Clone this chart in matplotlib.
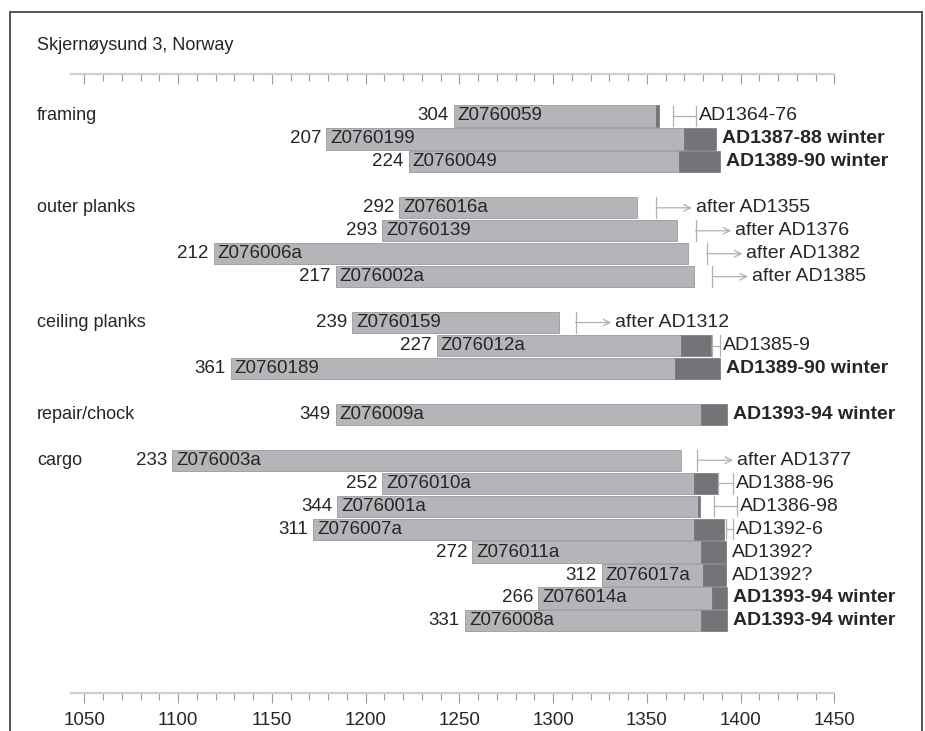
import matplotlib
matplotlib.use("Agg")
import matplotlib.pyplot as plt
from matplotlib.patches import Rectangle
from matplotlib.ticker import MultipleLocator

plt.rcParams['font.family'] = ['Liberation Sans', 'DejaVu Sans']

# ---------------- data ----------------
title = "Skjernøysund 3, Norway"
groups = ["framing", "outer planks", "ceiling planks", "repair/chock", "cargo"]
group_sizes = [3, 4, 3, 1, 8]

samples = ["Z0760059", "Z0760199", "Z0760049",
           "Z076016a", "Z0760139", "Z076006a", "Z076002a",
           "Z0760159", "Z076012a", "Z0760189",
           "Z076009a",
           "Z076003a", "Z076010a", "Z076001a", "Z076007a",
           "Z076011a", "Z076017a", "Z076014a", "Z076008a"]
numbers = [304, 207, 224,
           292, 293, 212, 217,
           239, 227, 361,
           349,
           233, 252, 344, 311, 272, 312, 266, 331]
first_year = [1247, 1179, 1223,
              1218, 1209, 1119, 1184,
              1193, 1238, 1128,
              1184,
              1097, 1209, 1185, 1172, 1257, 1326, 1292, 1253]
heart_end = [1355, 1370, 1367,
             1345, 1366, 1372, 1375,
             1303, 1368, 1365,
             1379,
             1368, 1375, 1377.5, 1375, 1379, 1380, 1385, 1379]
last_year = [1356.5, 1387, 1389,
             1345, 1366, 1372, 1375,
             1303, 1384, 1389,
             1393,
             1368, 1388, 1378.5, 1391, 1392, 1392, 1393, 1393]
# felling kind: 'range' (bracket), 'after' (arrow), 'exact' (no mark)
fell_kind = ["range", "exact", "exact",
             "after", "after", "after", "after",
             "after", "range", "exact",
             "exact",
             "after", "range", "range", "range", "exact", "exact", "exact", "exact"]
fell_lo = [1364, None, None,
           1355, 1376, 1382, 1385,
           1312, 1385, None,
           None,
           1377, 1388, 1386, 1392, None, None, None, None]
fell_hi = [1376, None, None,
           None, None, None, None,
           None, 1389, None,
           None,
           None, 1396, 1398, 1396, None, None, None, None]
date_labels = ["AD1364-76", "AD1387-88 winter", "AD1389-90 winter",
               "after AD1355", "after AD1376", "after AD1382", "after AD1385",
               "after AD1312", "AD1385-9", "AD1389-90 winter",
               "AD1393-94 winter",
               "after AD1377", "AD1388-96", "AD1386-98", "AD1392-6",
               "AD1392?", "AD1392?", "AD1393-94 winter", "AD1393-94 winter"]
axis_start, axis_end = 1043, 1450

# ---------------- style ----------------
W, H = 925, 731
LIGHT = "#b4b5b8"
LIGHT_EDGE = "#a2a3a6"
DARK = "#737477"
LINE = "#b0b0b0"
TXT = "#262626"
FS = 13
FS_BAR = 13.5
FS_DATE = 14
PXY = 1.875          # pixels per year
ROW_PX = 22.95       # pixels per row
ROW0_PX = 116        # pixel y of the first row
TOP_PX, BOT_PX = 74, 693

fig = plt.figure(figsize=(W / 100, H / 100), dpi=100)
left_px = 84.3 + (axis_start - 1050) * PXY
right_px = 84.3 + (axis_end - 1050) * PXY
ax = fig.add_axes([left_px / W, (H - BOT_PX) / H,
                   (right_px - left_px) / W, (BOT_PX - TOP_PX) / H])
ax.set_xlim(axis_start, axis_end)
ax.set_ylim((BOT_PX - ROW0_PX) / ROW_PX, (TOP_PX - ROW0_PX) / ROW_PX)

for s in ["left", "right"]:
    ax.spines[s].set_visible(False)
for s in ["top", "bottom"]:
    ax.spines[s].set_color("#d0d0d0")
    ax.spines[s].set_linewidth(1.6)
ax.tick_params(axis="y", left=False, labelleft=False)
ax.xaxis.set_major_locator(MultipleLocator(50))
ax.xaxis.set_minor_locator(MultipleLocator(10))
ax.tick_params(axis="x", which="both", top=True, bottom=True,
               labeltop=False, labelbottom=True, color="#9a9a9a",
               width=0.8, labelsize=FS_BAR, labelcolor=TXT, pad=7)
ax.tick_params(axis="x", which="major", direction="out", length=7)
ax.tick_params(axis="x", which="minor", direction="out", length=5)
ax.set_xticks(list(range(1050, 1451, 50)))
# top ticks point downward as well
for t in ax.xaxis.get_major_ticks() + ax.xaxis.get_minor_ticks():
    t.tick2line.set_marker(3)  # TICKDOWN

# rows
rows = []
r = 0
group_row = []
for g, n in zip(groups, group_sizes):
    group_row.append(r)
    rows.extend(range(r, r + n))
    r += n + 1

ypx = 1 / PXY        # one pixel expressed in years
bh = 0.92
for g, gr in zip(groups, group_row):
    fig.text(37 / W, 1 - (ROW0_PX + gr * ROW_PX) / H, g, fontsize=FS,
             color=TXT, va="center", ha="left")

for i, y in enumerate(rows):
    s0, he, le = first_year[i], heart_end[i], last_year[i]
    ax.barh(y, he - s0, left=s0, height=bh, color=LIGHT,
            edgecolor=LIGHT_EDGE, linewidth=0.7, clip_on=False)
    if le > he:
        ax.barh(y, le - he, left=he, height=bh, color=DARK,
                edgecolor=DARK, linewidth=0.5, clip_on=False)
    ax.text(s0 - 5 * ypx, y, str(numbers[i]), ha="right", va="center",
            fontsize=FS_BAR, color=TXT, clip_on=False)
    ax.text(s0 + 4 * ypx, y, samples[i], ha="left", va="center",
            fontsize=FS_BAR, color=TXT, clip_on=False)
    kind = fell_kind[i]
    bold = "winter" in date_labels[i]
    if kind == "range":
        lo, hi = fell_lo[i], fell_hi[i]
        ax.plot([lo, hi], [y, y], color=LINE, lw=0.9, clip_on=False)
        ax.plot([lo, lo], [y - 0.45, y + 0.45], color=LINE, lw=0.9, clip_on=False)
        ax.plot([hi, hi], [y - 0.45, y + 0.45], color=LINE, lw=0.9, clip_on=False)
        tx = hi + 3 * ypx
    elif kind == "after":
        lo = fell_lo[i]
        ax.plot([lo, lo], [y - 0.45, y + 0.45], color=LINE, lw=0.9, clip_on=False)
        ax.annotate("", xy=(lo + 19, y), xytext=(lo, y),
                    arrowprops=dict(arrowstyle="->", color=LINE, lw=0.9,
                                    shrinkA=0, shrinkB=0,
                                    mutation_scale=12),
                    annotation_clip=False)
        tx = lo + 21
    else:
        tx = le + 6 * ypx
    ax.text(tx, y, date_labels[i], ha="left", va="center", fontsize=FS_DATE,
            color=TXT, fontweight="bold" if bold else "normal", clip_on=False)

fig.text(37 / W, 1 - 46 / H, title, fontsize=FS, color=TXT,
         va="center", ha="left")

fig.patches.append(Rectangle((10 / W, -0.05), (922 - 10) / W, 1.05 - 12 / H,
                             transform=fig.transFigure, fill=False,
                             edgecolor="#555555", linewidth=1.4))

fig.savefig("out.png", dpi=100)
